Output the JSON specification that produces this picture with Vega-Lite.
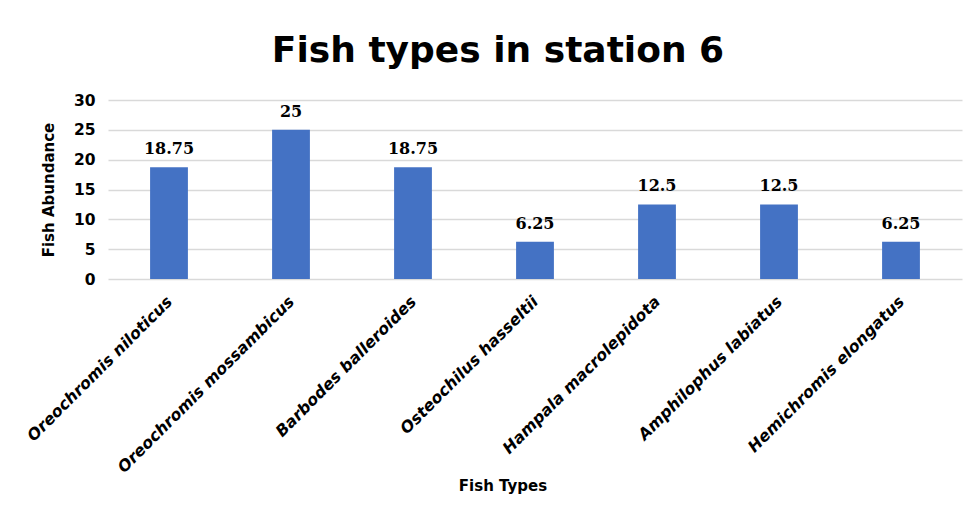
{
  "$schema": "https://vega.github.io/schema/vega-lite/v6.json",
  "width": 854,
  "height": 179,
  "autosize": {"type": "none"},
  "padding": {"left": 108, "top": 100, "right": 12, "bottom": 245},
  "background": "#ffffff",
  "title": {
    "text": "Fish types in station 6",
    "font": "DejaVu Sans",
    "fontSize": 36,
    "fontWeight": "bold",
    "color": "#000000",
    "anchor": "middle",
    "baseline": "alphabetic",
    "dx": -37,
    "dy": 34,
    "offset": 29
  },
  "data": {
    "values": [
      {"fish": "Oreochromis niloticus", "abundance": 18.75},
      {"fish": "Oreochromis mossambicus", "abundance": 25},
      {"fish": "Barbodes balleroides", "abundance": 18.75},
      {"fish": "Osteochilus hasseltii", "abundance": 6.25},
      {"fish": "Hampala macrolepidota", "abundance": 12.5},
      {"fish": "Amphilophus labiatus", "abundance": 12.5},
      {"fish": "Hemichromis elongatus", "abundance": 6.25}
    ]
  },
  "encoding": {
    "x": {
      "field": "fish",
      "type": "nominal",
      "sort": null,
      "scale": {"paddingInner": 0.69, "paddingOuter": 0.345},
      "axis": {
        "title": "Fish Types",
        "titleFont": "DejaVu Sans",
        "titleFontSize": 15,
        "titleFontWeight": "bold",
        "titleColor": "#000000",
        "titleX": 394.5,
        "titleY": 211,
        "titleAlign": "center",
        "titleBaseline": "alphabetic",
        "labelAngle": -45,
        "labelAlign": "right",
        "labelBaseline": "top",
        "labelFont": "DejaVu Sans",
        "labelFontSize": 16,
        "labelFontWeight": "bold",
        "labelFontStyle": "italic",
        "labelColor": "#000000",
        "labelPadding": 14,
        "labelOffset": -5,
        "labelLimit": 400,
        "ticks": false,
        "tickSize": 0,
        "domain": false,
        "grid": false
      }
    },
    "y": {
      "field": "abundance",
      "type": "quantitative",
      "scale": {"domain": [0, 30], "nice": false},
      "axis": {
        "title": "Fish Abundance",
        "titleFont": "DejaVu Sans",
        "titleFontSize": 15,
        "titleFontWeight": "bold",
        "titleColor": "#000000",
        "titleAngle": -90,
        "titleX": -60,
        "titleY": 89.5,
        "titleAlign": "center",
        "titleBaseline": "middle",
        "values": [0, 5, 10, 15, 20, 25, 30],
        "labelFont": "DejaVu Sans",
        "labelFontSize": 15.5,
        "labelFontWeight": "bold",
        "labelColor": "#000000",
        "labelPadding": 13,
        "ticks": false,
        "tickSize": 0,
        "domain": false,
        "grid": true,
        "gridColor": "#d9d9d9",
        "gridWidth": 1.5
      }
    }
  },
  "layer": [
    {"mark": {"type": "bar", "color": "#4472c4"}},
    {
      "mark": {
        "type": "text",
        "font": "DejaVu Serif",
        "fontSize": 16,
        "fontWeight": "bold",
        "color": "#000000",
        "baseline": "alphabetic",
        "dy": -13
      },
      "encoding": {"text": {"field": "abundance", "type": "quantitative"}}
    }
  ],
  "config": {"view": {"stroke": null}}
}
